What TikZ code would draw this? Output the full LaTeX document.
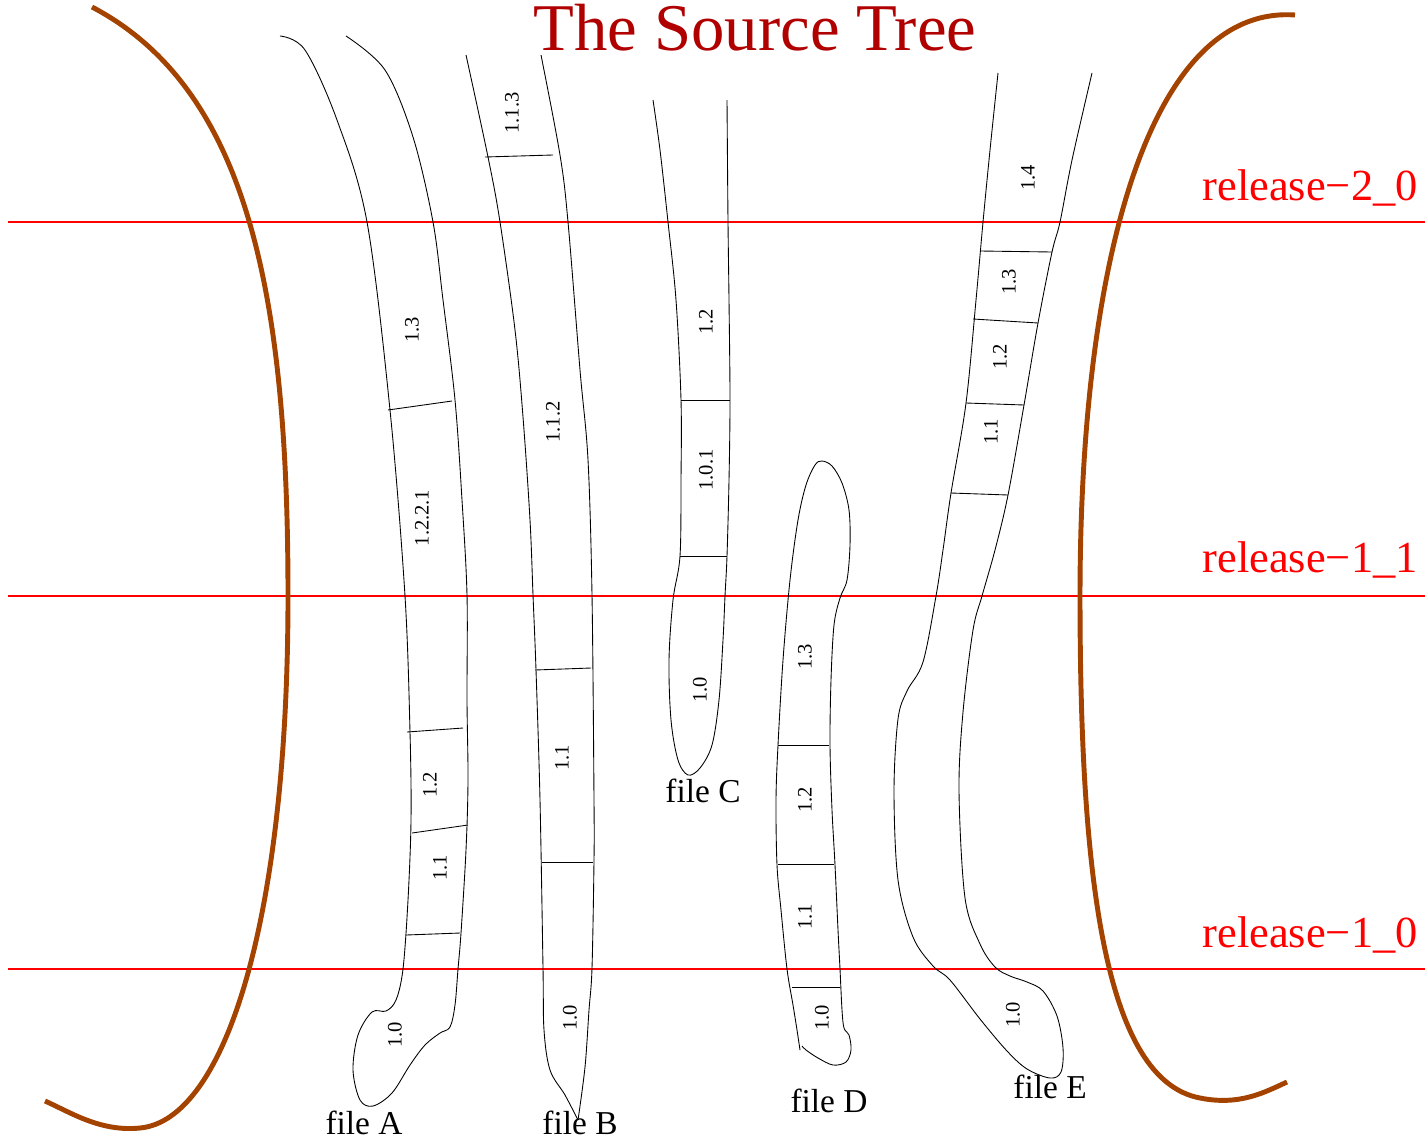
\documentclass[tikz,border=0pt]{standalone}
\usepackage{fontspec}
\setmainfont{Liberation Serif}
\usepackage{xcolor}
\definecolor{bracketBrown}{RGB}{164,66,0}
\definecolor{titleRed}{RGB}{176,0,0}

\begin{document}
\begin{tikzpicture}[
  x=0.02cm, y=-0.02cm,
  outline/.style={line width=0.5pt, line join=round},
  revTick/.style={line width=0.5pt},
  revLabel/.style={rotate=90, inner sep=0pt, font=\fontsize{11.7}{14}\selectfont},
  fileLabel/.style={anchor=base, inner sep=0pt, font=\fontsize{19}{22}\selectfont},
  releaseLine/.style={red, line width=1.1pt},
  releaseLabel/.style={anchor=base east, inner sep=0pt, text=red, font=\fontsize{25.3}{30}\selectfont},
  bracket/.style={bracketBrown, line width=2.8pt},
]
\useasboundingbox (0,0) rectangle (1425,1139);

% --- Title ---
\node[anchor=base, inner sep=0pt, text=titleRed, font=\fontsize{38}{44}\selectfont] (title) at (755,50) {The Source Tree};

% --- Release lines ---
\draw[releaseLine] (8,222) -- (1425,222);
\draw[releaseLine] (8,596) -- (1425,596);
\draw[releaseLine] (8,969) -- (1425,969);
\node[releaseLabel] (rel20) at (1418,200) {release−2\_0};
\node[releaseLabel] (rel11) at (1418,572) {release−1\_1};
\node[releaseLabel] (rel10) at (1418,947) {release−1\_0};

% --- Brackets ---
\draw[bracket] (92,7) .. controls (250,90) and (288,300) .. (288,596)
  .. controls (288,920) and (225,1120) .. (140,1128)
  .. controls (100,1132) and (70,1112) .. (45,1101);
\draw[bracket] (1295,15) .. controls (1150,5) and (1080,260) .. (1080,596)
  .. controls (1080,880) and (1105,1080) .. (1200,1098)
  .. controls (1240,1106) and (1265,1092) .. (1287,1082);

% --- file A ---
\draw[outline] plot[smooth, tension=0.55] coordinates {(280,36) (305,50) (337,120) (367,222) (390,410) (405,596) (410,732) (411,820) (408,900) (403,969) (396,1000) (386,1011) (372,1012) (358,1035) (353,1070) (360,1100) (373,1106) (392,1093) (410,1065) (425,1045) (440,1033) (450,1027) (455,1005) (458,969) (461,933) (466,850) (468,780) (467,700) (467,595) (462,500) (455,400) (443,300) (433,222) (413,137) (385,70) (346,36)};
\draw[revTick] (388,410) -- (452,401);
\draw[revTick] (407,732) -- (463,728);
\draw[revTick] (412,833) -- (468,825);
\draw[revTick] (406,935) -- (460,933);
\node[revLabel] (a13) at (412,330) {1.3};
\node[revLabel] (a1221) at (422,518) {1.2.2.1};
\node[revLabel] (a12) at (430,785) {1.2};
\node[revLabel] (a11) at (440,868) {1.1};
\node[revLabel] (a10) at (395,1035) {1.0};
\node[fileLabel] (fileA) at (364,1134) {file A};

% --- file B ---
\draw[outline] plot[smooth, tension=0.55] coordinates {(466,55) (488,157) (500,222) (515,330) (523,417) (530,520) (533,595) (536,670) (540,800) (543,968) (544,1030) (550,1070) (565,1095) (578,1120)};
\draw[outline] plot[smooth, tension=0.55] coordinates {(541,55) (560,155) (568,222) (580,370) (588,460) (592,595) (594,800) (594,860) (592,968) (589,1010) (585,1067) (578,1120)};
\draw[revTick] (485,157) -- (553,155);
\draw[revTick] (535,670) -- (591,668);
\draw[revTick] (542,862) -- (593,862);
\node[revLabel] (b113) at (512,113) {1.1.3};
\node[revLabel] (b112) at (553,422) {1.1.2};
\node[revLabel] (b11) at (562,758) {1.1};
\node[revLabel] (b10) at (570,1018) {1.0};
\node[fileLabel] (fileB) at (580,1134) {file B};

% --- file C ---
\draw[outline] plot[smooth, tension=0.55] coordinates {(653,100) (660,150) (668,222) (676,300) (681,400) (681,480) (680,556) (673,600) (669,660) (671,720) (678,760) (688,775) (700,768) (712,745) (719,700) (723,640) (725,596) (727,556) (729,480) (730,400) (729,300) (728,222) (727,100)};
\draw[revTick] (681,400) -- (730,400);
\draw[revTick] (680,556) -- (727,556);
\node[revLabel] (c12) at (706,322) {1.2};
\node[revLabel] (c101) at (706,470) {1.0.1};
\node[revLabel] (c10) at (700,690) {1.0};
\node[fileLabel] (fileC) at (703,802) {file C};

% --- file D ---
\draw[outline] plot[smooth, tension=0.55] coordinates {(800,1050) (797,1030) (793,1005) (787,969) (781,910) (777,865) (776,800) (778,745) (783,660) (790,580) (798,520) (806,485) (815,465) (822,461) (832,466) (842,483) (849,510) (850,545) (847,580) (840,598) (834,625) (831,680) (830,745) (832,810) (835,865) (838,930) (840,969) (842,1010) (844,1028) (849,1035) (851,1050) (846,1062) (833,1065) (818,1058) (806,1050) (802,1046)};
\draw[revTick] (778,745) -- (829,745);
\draw[revTick] (778,864) -- (834,864);
\draw[revTick] (792,987) -- (840,987);
\node[revLabel] (d13) at (805,657) {1.3};
\node[revLabel] (d12) at (805,800) {1.2};
\node[revLabel] (d11) at (805,917) {1.1};
\node[revLabel] (d10) at (822,1018) {1.0};
\node[fileLabel] (fileD) at (829,1112) {file D};

% --- file E ---
\draw[outline] plot[smooth, tension=0.55] coordinates {(998,73) (990,150) (983,222) (976,300) (966,403) (951,493) (943,550) (936,596) (923,662) (907,691) (898,719) (894,791) (898,880) (913,937) (933,966) (950,980) (980,1019) (1007,1051) (1027,1069) (1050,1078) (1061,1072) (1063,1048) (1057,1016) (1043,991) (1027,982) (1010,976) (995,967) (980,944) (965,898) (959,791) (963,712) (973,630) (982,596) (995,550) (1008,495) (1024,405) (1038,323) (1052,252) (1060,222) (1072,160) (1092,73)};
\draw[revTick] (980,251) -- (1052,252);
\draw[revTick] (973,319) -- (1038,323);
\draw[revTick] (966,403) -- (1024,405);
\draw[revTick] (951,493) -- (1008,495);
\node[revLabel] (e14) at (1028,178) {1.4};
\node[revLabel] (e13) at (1009,282) {1.3};
\node[revLabel] (e12) at (1000,357) {1.2};
\node[revLabel] (e11) at (991,432) {1.1};
\node[revLabel] (e10) at (1013,1015) {1.0};
\node[fileLabel] (fileE) at (1050,1098) {file E};

\end{tikzpicture}
\end{document}
